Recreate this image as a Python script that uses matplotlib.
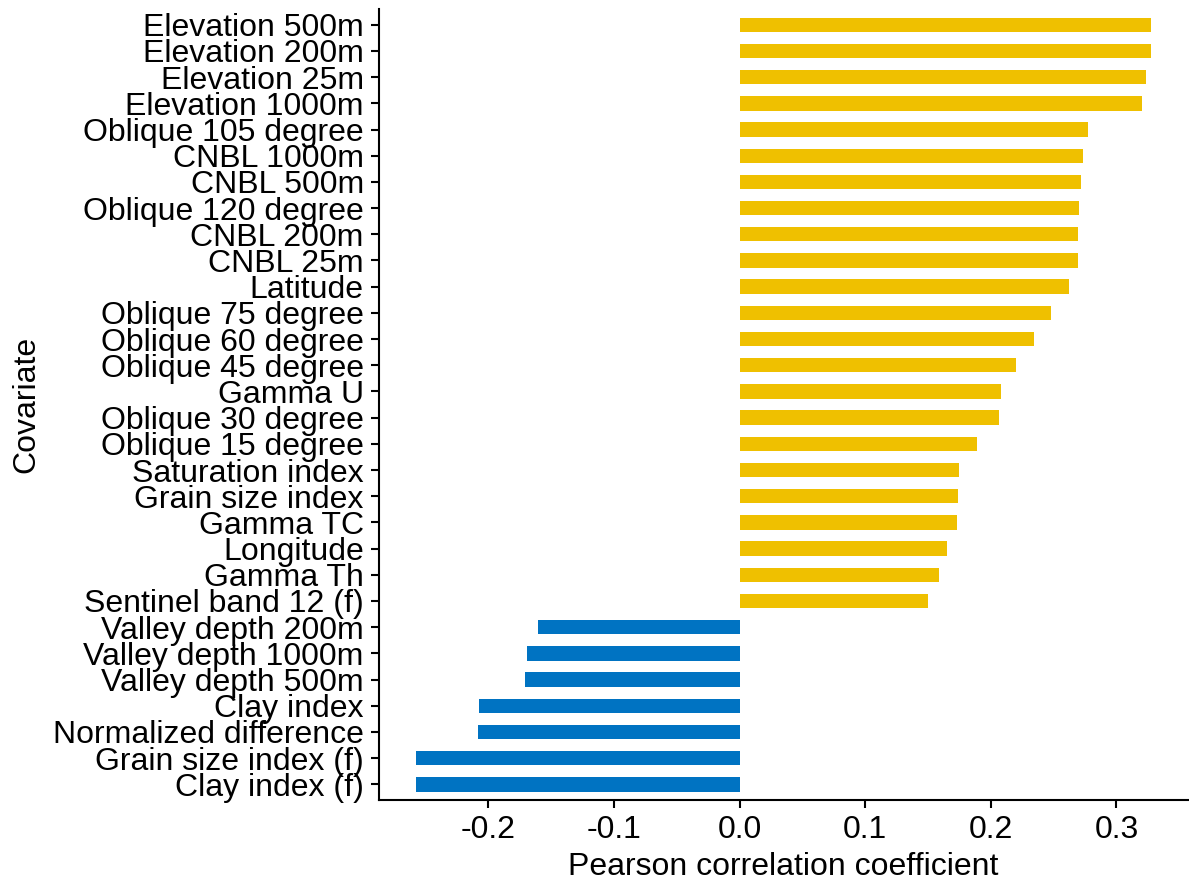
import matplotlib.pyplot as plt
import numpy as np

# covariates, listed top to bottom as in the figure
covariates = ['Elevation 500m', 'Elevation 200m', 'Elevation 25m', 'Elevation 1000m',
              'Oblique 105 degree', 'CNBL 1000m', 'CNBL 500m', 'Oblique 120 degree',
              'CNBL 200m', 'CNBL 25m', 'Latitude', 'Oblique 75 degree',
              'Oblique 60 degree', 'Oblique 45 degree', 'Gamma U', 'Oblique 30 degree',
              'Oblique 15 degree', 'Saturation index', 'Grain size index', 'Gamma TC',
              'Longitude', 'Gamma Th', 'Sentinel band 12 (f)', 'Valley depth 200m',
              'Valley depth 1000m', 'Valley depth 500m', 'Clay index',
              'Normalized difference', 'Grain size index (f)', 'Clay index (f)']
r_values = [0.3275, 0.3275, 0.3236, 0.3201, 0.2773, 0.2734, 0.2718, 0.2702,
            0.2694, 0.2691, 0.2624, 0.2476, 0.2341, 0.2202, 0.2080, 0.2064,
            0.1891, 0.1748, 0.1737, 0.1727, 0.1647, 0.1584, 0.1498, -0.1604,
            -0.1695, -0.1705, -0.2078, -0.2086, -0.2572, -0.2577]

pos_col = '#EFC000'
neg_col = '#0073C2'

plt.rcParams['font.family'] = ['Liberation Sans', 'DejaVu Sans']

fig = plt.figure(figsize=(11.89, 8.85), dpi=100)
ax = fig.add_axes([0.3188, 0.096, 0.6802, 0.8938])

n = len(covariates)
ypos = np.arange(n)[::-1]
colors = [pos_col if v > 0 else neg_col for v in r_values]
ax.barh(ypos, r_values, height=0.55, color=colors)

lo, hi = min(r_values), max(r_values)
pad = (hi - lo) * 0.05
ax.set_xlim(lo - pad, hi + pad)
ax.set_ylim(-0.6, n - 1 + 0.6)

ax.set_yticks(ypos)
ax.set_yticklabels(covariates)
ax.set_xticks([-0.2, -0.1, 0.0, 0.1, 0.2, 0.3])
ax.set_xticklabels(['-0.2', '-0.1', '0.0', '0.1', '0.2', '0.3'])

ax.spines['top'].set_visible(False)
ax.spines['right'].set_visible(False)
for s in ['left', 'bottom']:
    ax.spines[s].set_linewidth(1.5)
ax.tick_params(axis='both', labelsize=23, width=1.5, length=6, pad=5, colors='black')

ax.set_xlabel('Pearson correlation coefficient', fontsize=23, labelpad=5)
ax.set_ylabel('Covariate', fontsize=23, labelpad=8)

fig.savefig('out.png', dpi=100)
